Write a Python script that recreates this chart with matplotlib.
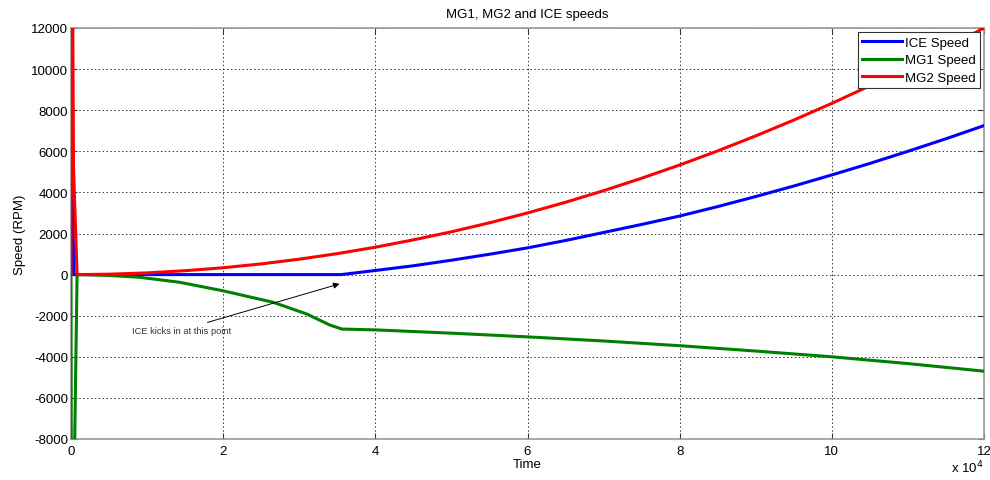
import matplotlib
matplotlib.use("Agg")
import matplotlib.pyplot as plt
from matplotlib.ticker import FixedLocator, FixedFormatter

plt.rcParams['font.family'] = ['Liberation Sans', 'DejaVu Sans']

# ---- data (time in seconds-like units, speeds in RPM) ----
ice_t = [0, 150, 400, 800, 10000, 20000, 30000, 35500, 40000, 45000, 50000, 55000, 60000,
         65000, 70000, 75000, 80000, 85000, 90000, 95000, 100000, 105000, 110000, 115000, 120000]
ice_v = [0, 4400, 0, 0, 0, 0, 0, 0, 200, 430, 700, 990, 1300,
         1660, 2050, 2440, 2850, 3310, 3800, 4310, 4850, 5410, 6000, 6610, 7250]

mg1_t = [0, 80, 450, 800, 1000, 5000, 9000, 14300, 20000, 26600, 31000, 34000, 35600,
         40000, 50000, 60000, 70000, 80000, 90000, 100000, 110000, 120000]
mg1_v = [0, -20000, -9000, 0, 0, -40, -130, -375, -790, -1350, -1920, -2450, -2650,
         -2690, -2850, -3030, -3230, -3460, -3720, -4000, -4330, -4700]

mg2_t = [0, 130, 330, 800, 1000, 5000, 10000, 15000, 20000, 25000, 30000, 35000, 40000,
         45000, 50000, 55000, 60000, 65000, 70000, 75000, 80000, 85000, 90000, 95000,
         100000, 105000, 110000, 115000, 120000]
mg2_v = [0, 20000, 5200, 0, 0, 20, 83, 190, 333, 520, 750, 1020, 1333,
         1690, 2083, 2520, 3000, 3520, 4083, 4690, 5333, 6020, 6750, 7520,
         8333, 9190, 10083, 11020, 12000]

x_ticks = [0, 20000, 40000, 60000, 80000, 100000, 120000]
x_tick_labels = ['0', '2', '4', '6', '8', '10', '12']
y_ticks = [-8000, -6000, -4000, -2000, 0, 2000, 4000, 6000, 8000, 10000, 12000]
y_tick_labels = ['-8000', '-6000', '-4000', '-2000', '0', '2000', '4000', '6000', '8000', '10000', '12000']

FS = 9.5

fig = plt.figure(figsize=(9.9, 4.81), dpi=100)
ax = fig.add_axes([71/990, 1-440/481, (984-71)/990, (440-29)/481])

ax.plot(ice_t, ice_v, color='#0000ff', lw=2.2, label='ICE Speed', zorder=3)
ax.plot(mg1_t, mg1_v, color='#008000', lw=2.2, label='MG1 Speed', zorder=3)
ax.plot(mg2_t, mg2_v, color='#ff0000', lw=2.2, label='MG2 Speed', zorder=3)

ax.set_xlim(0, 120000)
ax.set_ylim(-8000, 12000)
ax.xaxis.set_major_locator(FixedLocator(x_ticks))
ax.xaxis.set_major_formatter(FixedFormatter(x_tick_labels))
ax.yaxis.set_major_locator(FixedLocator(y_ticks))
ax.yaxis.set_major_formatter(FixedFormatter(y_tick_labels))
ax.tick_params(direction='in', length=4, width=0.8, labelsize=FS, colors='#333333',
               top=True, right=True)
ax.tick_params(axis='x', pad=4)
ax.tick_params(axis='y', pad=2)
for t in ax.get_xticklabels() + ax.get_yticklabels():
    t.set_color('black')
ax.grid(True, color='#333333', linestyle=(0, (1.5, 2.5)), linewidth=0.7)
for s in ax.spines.values():
    s.set_color('#999999')
    s.set_linewidth(1.2)

ax.set_title('MG1, MG2 and ICE speeds', fontsize=FS, pad=8)
ax.set_xlabel('Time', fontsize=FS, labelpad=1)
ax.set_ylabel('Speed (RPM)', fontsize=FS, labelpad=4)

fig.text(984/990, 1-468/481, r'x 10$^{4}$', ha='right', va='center', fontsize=FS)

ax.annotate('ICE kicks in at this point', xy=(35300, -450), xytext=(21000, -2700),
            ha='right', va='center', fontsize=6.7, color='#333333',
            arrowprops=dict(arrowstyle='-|>', color='black', lw=0.7,
                            shrinkA=1, shrinkB=0, mutation_scale=9))

leg = ax.legend(loc='upper right', fontsize=FS, fancybox=False, framealpha=1,
                edgecolor='#333333', borderaxespad=0.3, handlelength=3.0,
                handletextpad=0.2, borderpad=0.35, labelspacing=0.4)
leg.get_frame().set_linewidth(0.8)

fig.savefig('out.png', dpi=100)
